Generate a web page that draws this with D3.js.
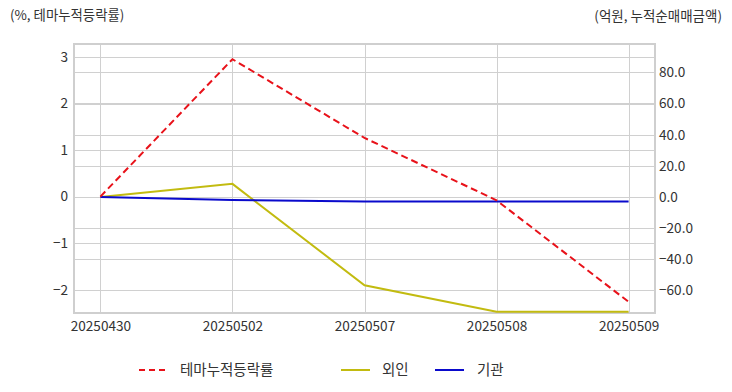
<!DOCTYPE html>
<html><head><meta charset="utf-8">
<script src="https://cdn.jsdelivr.net/npm/d3@7"></script>
<style>body{margin:0;background:#fff;} text{font-family:"Noto Sans CJK KR","Noto Sans",sans-serif;}</style>
</head><body><svg id="c" width="732" height="392"></svg>
<script>
const dates = ["20250430","20250502","20250507","20250508","20250509"];
const themeRate = [0, 2.95, 1.26, -0.08, -2.26];
const foreign = [0, 8.4, -56.8, -73.8, -73.8];
const institution = [0, -2.0, -3.0, -3.0, -3.0];
const leftTicks = [-2,-1,0,1,2,3];
const rightTicks = [-60,-40,-20,0,20,40,60,80];
const leftTitle = "(%, 테마누적등락률)";
const rightTitle = "(억원, 누적순매매금액)";
const seriesNames = ["테마누적등락률","외인","기관"];
const colors = ["#e8121a","#c2bb10","#0a0acc"];

const svg = d3.select("#c");
const L=74, R=655, T=44, B=313;
const x = d3.scalePoint().domain(dates).range([L,R]).padding(0.2);
const yL = d3.scaleLinear().domain([-2.5,3.277]).range([B,T]);
const yR = d3.scaleLinear().domain([-74.6,98.3]).range([B,T]);

const grid = svg.append("g").attr("stroke","#d0d0d0").attr("stroke-width",1);
leftTicks.forEach(t=>grid.append("line").attr("x1",L).attr("x2",R).attr("y1",Math.round(yL(t))+0.5).attr("y2",Math.round(yL(t))+0.5));
rightTicks.forEach(t=>grid.append("line").attr("x1",L).attr("x2",R).attr("y1",Math.round(yR(t))+0.5).attr("y2",Math.round(yR(t))+0.5));
dates.forEach(d=>grid.append("line").attr("x1",Math.round(x(d))+0.5).attr("x2",Math.round(x(d))+0.5).attr("y1",T).attr("y2",B));
svg.append("rect").attr("x",L).attr("y",T).attr("width",R-L).attr("height",B-T).attr("fill","none").attr("stroke","#cfcfcf").attr("stroke-width",2);

const axL = svg.append("g").attr("transform",`translate(${L},0)`).call(d3.axisLeft(yL).tickValues(leftTicks).tickSize(0).tickPadding(6).tickFormat(d3.format("d")));
const axR = svg.append("g").attr("transform",`translate(${R},0)`).call(d3.axisRight(yR).tickValues(rightTicks).tickSize(0).tickPadding(4).tickFormat(d3.format(".1f")));
const axB = svg.append("g").attr("transform",`translate(0,${B})`).call(d3.axisBottom(x).tickSize(0).tickPadding(6));
[axL,axR,axB].forEach(a=>{a.select(".domain").remove();a.selectAll("text").attr("fill","#333").style("font-size","13.6px").style("font-family",'"Noto Sans CJK KR",sans-serif');});
axB.selectAll("text").attr("dy","0.85em");

const lineL = d3.line().x((d,i)=>x(dates[i])).y(d=>yL(d));
const lineR = d3.line().x((d,i)=>x(dates[i])).y(d=>yR(d));
svg.append("path").datum(foreign).attr("d",lineR).attr("fill","none").attr("stroke",colors[1]).attr("stroke-width",2);
svg.append("path").datum(institution).attr("d",lineR).attr("fill","none").attr("stroke",colors[2]).attr("stroke-width",2);
svg.append("path").datum(themeRate).attr("d",lineL).attr("fill","none").attr("stroke",colors[0]).attr("stroke-width",2).attr("stroke-dasharray","7,4");

svg.append("text").attr("x",10).attr("y",20).attr("fill","#333").style("font-size","13.4px").text(leftTitle);
svg.append("text").attr("x",722).attr("y",21).attr("text-anchor","end").attr("fill","#333").style("font-size","13.5px").text(rightTitle);

const leg = [{x:139,tx:180},{x:341,tx:382},{x:435,tx:477}];
leg.forEach((l,i)=>{
  svg.append("line").attr("x1",l.x).attr("x2",l.x+29).attr("y1",370).attr("y2",370).attr("stroke",colors[i]).attr("stroke-width",2).attr("stroke-dasharray",i===0?"6,4":null);
  svg.append("text").attr("x",l.tx).attr("y",375).attr("fill","#333").style("font-size","14.5px").text(seriesNames[i]);
});
</script></body></html>
